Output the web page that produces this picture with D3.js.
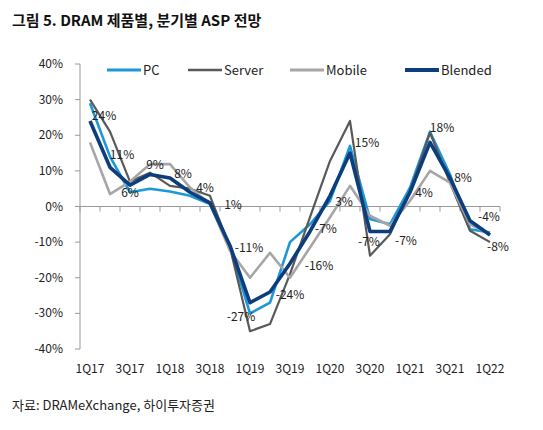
<!DOCTYPE html>
<html><head><meta charset="utf-8">
<script src="https://cdn.jsdelivr.net/npm/d3@7"></script>
<style>body{margin:0;background:#fff}text{font-family:"Noto Sans CJK KR","Liberation Sans",sans-serif}</style>
</head><body><svg id="c" width="543" height="430"></svg>
<script>
const quarters=["1Q17","2Q17","3Q17","4Q17","1Q18","2Q18","3Q18","4Q18","1Q19","2Q19","3Q19","4Q19","1Q20","2Q20","3Q20","4Q20","1Q21","2Q21","3Q21","4Q21","1Q22"];
const pc=[29,14,4,5,4.2,3,0.7,-11.5,-30,-27,-10,-5,1.6,17,-3.5,-5,5.3,21,9,-6.4,-7.3];
const server=[30,21,7,9.5,5.8,5,3,-11.5,-35,-33,-19,-3,12.8,24,-13.8,-7.8,4.4,20.7,6.7,-6.8,-10];
const mobile=[18,3.5,7,11.9,11.9,5.3,0.7,-12.4,-20,-13,-20,-11.5,-3,5.8,-2.6,-5.4,1.6,10,6.7,-5,-7.8];
const blended=[24,11,6,9,8,4,1,-11,-27,-24,-16,-7,3,15,-7,-7,4,18,8,-4,-8];
const yTicks=[40,30,20,10,0,-10,-20,-30,-40];
const xLabels=["1Q17","3Q17","1Q18","3Q18","1Q19","3Q19","1Q20","3Q20","1Q21","3Q21","1Q22"];
const series=[
 {name:"PC",vals:pc,color:"#1b98d5",w:2.6},
 {name:"Server",vals:server,color:"#595959",w:2.2},
 {name:"Mobile",vals:mobile,color:"#a6a6a6",w:2.6},
 {name:"Blended",vals:blended,color:"#0c3d7d",w:3.6}];
const svg=d3.select("#c");
svg.append("text").attr("x",12).attr("y",26).attr("font-size",15).attr("font-weight","bold").attr("fill","#111").text("그림 5. DRAM 제품별, 분기별 ASP 전망");
const x=d3.scaleBand().domain(quarters).range([80,500]);
const y=d3.scaleLinear().domain([-40,40]).range([349,64]);
const cx=q=>x(q)+x.bandwidth()/2;
const g=svg.append("g");
g.append("line").attr("x1",80).attr("x2",80).attr("y1",64).attr("y2",349).attr("stroke","#999");
yTicks.forEach(t=>{
 g.append("line").attr("x1",75).attr("x2",80).attr("y1",y(t)).attr("y2",y(t)).attr("stroke","#999");
 g.append("text").attr("x",63).attr("y",y(t)+4).attr("text-anchor","end").attr("font-size",12).attr("fill","#222").text(t+"%");
});
g.append("line").attr("x1",80).attr("x2",500).attr("y1",y(0)).attr("y2",y(0)).attr("stroke","#999");
quarters.concat([null]).forEach((q,i)=>{const xx=q?x(q):500;g.append("line").attr("x1",xx).attr("x2",xx).attr("y1",y(0)).attr("y2",y(0)+5).attr("stroke","#999");});
xLabels.forEach(q=>g.append("text").attr("x",cx(q)).attr("y",373).attr("text-anchor","middle").attr("font-size",12).attr("fill","#222").text(q));
const line=d3.line().x((d,i)=>cx(quarters[i])).y(d=>y(d));
series.forEach(s=>g.append("path").attr("d",line(s.vals)).attr("fill","none").attr("stroke",s.color).attr("stroke-width",s.w).attr("stroke-linejoin","round"));
const off=[[14,-1],[12,-8],[0,12],[5,-5],[13,0],[15,0],[23,6],[19,6],[-9,18],[20,7],[29,6],[16,2],[14,10],[17,-6],[-1,15],[16,14],[14,5],[12,-10],[13,4],[19,0],[8,16]];
blended.forEach((v,i)=>{
 g.append("text").attr("x",cx(quarters[i])+off[i][0]).attr("y",y(v)+off[i][1]).attr("text-anchor","middle").attr("font-size",12).attr("fill","#222").text(v+"%");
});
const lx=[107,188,290,405];
series.forEach((s,i)=>{
 g.append("rect").attr("x",lx[i]-4).attr("y",62).attr("width",s.name.length*9+44).attr("height",16).attr("fill","#fff");
});
series.forEach((s,i)=>{
 g.append("line").attr("x1",lx[i]).attr("x2",lx[i]+34).attr("y1",70).attr("y2",70).attr("stroke",s.color).attr("stroke-width",s.w+0.4);
 g.append("text").attr("x",lx[i]+36).attr("y",75).attr("font-size",13).attr("fill","#222").text(s.name);
});
svg.append("text").attr("x",12).attr("y",410).attr("font-size",13).attr("fill","#222").text("자료: DRAMeXchange, 하이투자증권");
</script></body></html>
